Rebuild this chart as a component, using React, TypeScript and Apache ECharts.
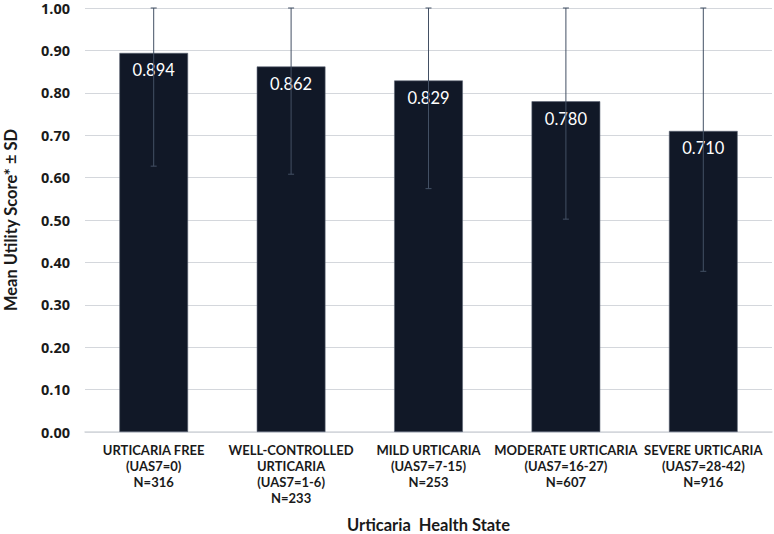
import React, { useEffect, useRef } from "react";
import * as echarts from "echarts";

const categories = [
  "URTICARIA FREE\n(UAS7=0)\nN=316",
  "WELL-CONTROLLED\nURTICARIA\n(UAS7=1-6)\nN=233",
  "MILD URTICARIA\n(UAS7=7-15)\nN=253",
  "MODERATE URTICARIA\n(UAS7=16-27)\nN=607",
  "SEVERE URTICARIA\n(UAS7=28-42)\nN=916",
];
const meanValues = [0.894, 0.862, 0.829, 0.78, 0.71];
const sdValues = [0.267, 0.254, 0.255, 0.278, 0.331];
const yTicks = [0, 0.1, 0.2, 0.3, 0.4, 0.5, 0.6, 0.7, 0.8, 0.9, 1.0];

const FONT = "Lato, 'Open Sans', sans-serif";

export default function App() {
  const ref = useRef<HTMLDivElement>(null);
  useEffect(() => {
    if (!ref.current) return;
    const chart = echarts.init(ref.current, null, { renderer: "svg" });
    const yMax = yTicks[yTicks.length - 1];
    const errData = meanValues.map((v, i) => [
      i,
      Math.max(0, v - sdValues[i]),
      Math.min(yMax, v + sdValues[i]),
    ]);
    chart.setOption({
      animation: false,
      textStyle: { fontFamily: FONT },
      grid: {
        left: 85,
        right: 2,
        top: 8,
        bottom: 102,
        containLabel: false,
        outerBoundsMode: "none",
      },
      xAxis: {
        type: "category",
        data: categories,
        name: "Urticaria  Health State",
        nameLocation: "middle",
        nameGap: 84,
        nameTextStyle: { fontFamily: FONT, fontWeight: "bold", fontSize: 16.5, color: "#1a1a1a" },
        axisTick: { show: false },
        axisLine: { lineStyle: { color: "#d4d7dc", width: 1.5 } },
        axisLabel: {
          interval: 0,
          fontFamily: FONT,
          fontSize: 13,
          fontWeight: "bold",
          color: "#1a1a1a",
          lineHeight: 16,
          margin: 10,
        },
      },
      yAxis: {
        type: "value",
        min: 0,
        max: yMax,
        interval: 0.1,
        name: "Mean Utility Score* ± SD",
        nameLocation: "middle",
        nameGap: 66,
        nameTextStyle: { fontFamily: FONT, fontWeight: "bold", fontSize: 16.5, color: "#1a1a1a" },
        axisLine: { show: false },
        axisTick: { show: false },
        splitLine: { lineStyle: { color: "#d4d7dc", width: 1 } },
        axisLabel: {
          formatter: (v: number) => v.toFixed(2),
          fontFamily: "'Open Sans', sans-serif",
          fontSize: 14.5,
          lineHeight: 14,
          fontWeight: "bold",
          color: "#1a1a1a",
          margin: 15,
        },
      },
      series: [
        {
          type: "bar",
          data: meanValues,
          barWidth: "50%",
          itemStyle: { color: "#111827", borderColor: "#5b6374", borderWidth: 0.6 },
          label: {
            show: true,
            position: "insideTop",
            distance: 9,
            formatter: (p: any) => p.value.toFixed(3),
            color: "#ffffff",
            fontFamily: FONT,
            fontSize: 16.5,
          },
          z: 2,
        },
        {
          type: "custom",
          data: errData,
          z: 3,
          renderItem: (params: any, api: any) => {
            const x = api.value(0);
            const lo = api.coord([x, api.value(1)]);
            const hi = api.coord([x, api.value(2)]);
            const cap = 3;
            const style = { stroke: "#435064", lineWidth: 1 };
            return {
              type: "group",
              children: [
                { type: "line", shape: { x1: lo[0], y1: lo[1], x2: hi[0], y2: hi[1] }, style },
                { type: "line", shape: { x1: lo[0] - cap, y1: lo[1], x2: lo[0] + cap, y2: lo[1] }, style },
                { type: "line", shape: { x1: hi[0] - cap, y1: hi[1], x2: hi[0] + cap, y2: hi[1] }, style },
              ],
            };
          },
        },
      ],
    });
    return () => chart.dispose();
  }, []);
  return (
    <div
      ref={ref}
      style={{ position: "fixed", left: 0, top: 0, width: 774, height: 534, background: "#fff" }}
    />
  );
}
